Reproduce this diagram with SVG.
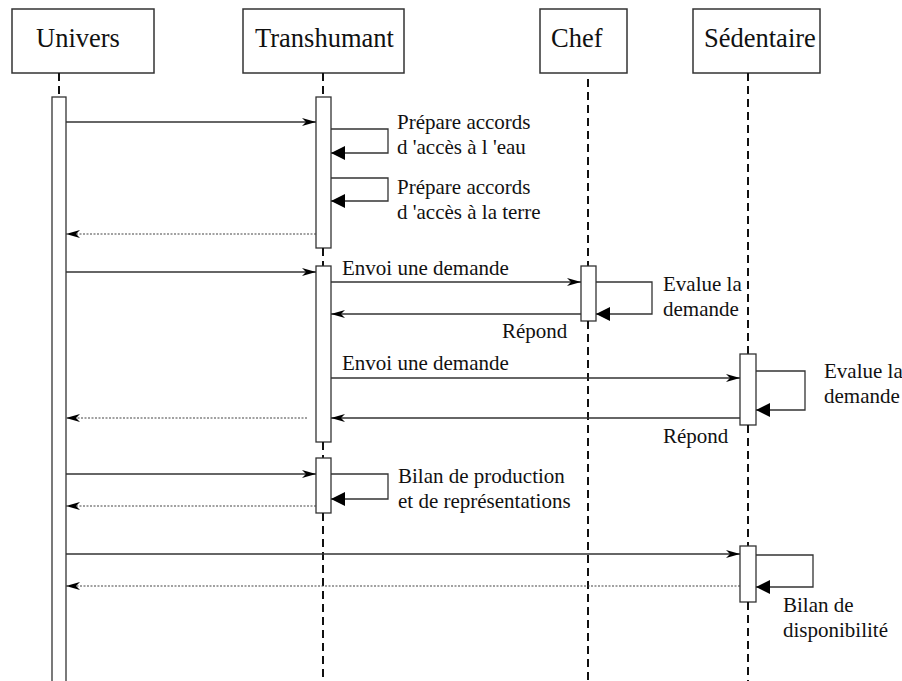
<svg xmlns="http://www.w3.org/2000/svg" width="902" height="681" viewBox="0 0 902 681">
<defs>
<style>
.box{fill:#fff;stroke:#333;stroke-width:1.5}
.act{fill:#fff;stroke:#333;stroke-width:1.3}
.life{stroke:#111;stroke-width:2;stroke-dasharray:8,5;fill:none}
.msg{stroke:#333;stroke-width:1.3;fill:none;marker-end:url(#barb)}
.ret{stroke:#444;stroke-width:1.2;stroke-dasharray:2,1.5;fill:none;marker-end:url(#barb)}
.loop{stroke:#333;stroke-width:1.3;fill:none;marker-end:url(#tri)}
.h{font-size:26.5px;fill:#111}
.t{font-size:21px;fill:#111}
</style>
<marker id="barb" markerUnits="userSpaceOnUse" markerWidth="16" markerHeight="10" refX="14" refY="4" orient="auto">
<path d="M0,0 L14,4 L0,8 L4,4 Z" fill="#000"/>
</marker>
<marker id="tri" markerUnits="userSpaceOnUse" markerWidth="16" markerHeight="16" refX="14" refY="7" orient="auto">
<path d="M0,0 L14,7 L0,14 Z" fill="#000"/>
</marker>
</defs>
<rect width="902" height="681" fill="#fff"/>

<g id="univers" font-family="Liberation Serif, serif">
<rect class="box" x="12" y="9" width="142" height="64"/>
<text class="h" x="36" y="47">Univers</text>
<line class="life" x1="59" y1="73" x2="59" y2="97"/>
<rect class="act" x="52" y="97" width="14" height="600"/>
</g>

<g id="transhumant" font-family="Liberation Serif, serif">
<rect class="box" x="243" y="9" width="161" height="64"/>
<text class="h" x="255" y="47">Transhumant</text>
<line class="life" x1="323" y1="73" x2="323" y2="97"/>
<rect class="act" x="316" y="97" width="15" height="151"/>
<line class="life" x1="323" y1="248" x2="323" y2="266"/>
<rect class="act" x="316" y="266" width="15" height="176"/>
<line class="life" x1="323" y1="442" x2="323" y2="458"/>
<rect class="act" x="316" y="458" width="15" height="55"/>
<line class="life" x1="323" y1="513" x2="323" y2="681"/>
</g>

<g id="chef" font-family="Liberation Serif, serif">
<rect class="box" x="540" y="9" width="87" height="64"/>
<text class="h" x="551" y="47">Chef</text>
<line class="life" x1="588" y1="79" x2="588" y2="266"/>
<rect class="act" x="581" y="266" width="15" height="55"/>
<line class="life" x1="588" y1="321" x2="588" y2="681"/>
</g>

<g id="sedentaire" font-family="Liberation Serif, serif">
<rect class="box" x="693" y="9" width="127" height="64"/>
<text class="h" x="704" y="47">Sédentaire</text>
<line class="life" x1="748" y1="73" x2="748" y2="354"/>
<rect class="act" x="740" y="354" width="16" height="71"/>
<line class="life" x1="748" y1="425" x2="748" y2="546"/>
<rect class="act" x="740" y="546" width="16" height="56"/>
<line class="life" x1="748" y1="602" x2="748" y2="681"/>
</g>

<g id="connectors">
<line class="msg" x1="66" y1="122" x2="316" y2="122"/>
<polyline class="loop" points="331,129 388,129 388,153 331,153"/>
<polyline class="loop" points="331,178 388,178 388,201 331,201"/>
<line class="ret" x1="316" y1="234" x2="66" y2="234"/>
<line class="msg" x1="66" y1="272" x2="316" y2="272"/>
<line class="msg" x1="331" y1="282" x2="581" y2="282"/>
<polyline class="loop" points="596,282 652,282 652,314 596,314"/>
<line class="msg" x1="581" y1="314" x2="331" y2="314"/>
<line class="msg" x1="331" y1="378" x2="740" y2="378"/>
<polyline class="loop" points="756,371 805,371 805,410 756,410"/>
<line class="msg" x1="740" y1="418" x2="331" y2="418"/>
<line class="ret" x1="307" y1="418" x2="66" y2="418"/>
<line class="msg" x1="66" y1="474" x2="316" y2="474"/>
<polyline class="loop" points="331,474 388,474 388,499 331,499"/>
<line class="ret" x1="316" y1="506" x2="66" y2="506"/>
<line class="msg" x1="66" y1="554" x2="740" y2="554"/>
<polyline class="loop" points="756,555 813,555 813,587 756,587"/>
<line class="ret" x1="740" y1="586" x2="66" y2="586"/>
</g>

<g id="labels" font-family="Liberation Serif, serif">
<text class="t" x="397" y="129">Prépare accords</text>
<text class="t" x="397" y="154">d 'accès à l 'eau</text>
<text class="t" x="397" y="194">Prépare accords</text>
<text class="t" x="397" y="219">d 'accès à la terre</text>
<text class="t" x="342" y="275">Envoi une demande</text>
<text class="t" x="663" y="291">Evalue la</text>
<text class="t" x="663" y="316">demande</text>
<text class="t" x="502" y="338">Répond</text>
<text class="t" x="342" y="370">Envoi une demande</text>
<text class="t" x="824" y="378">Evalue la</text>
<text class="t" x="824" y="403">demande</text>
<text class="t" x="663" y="443">Répond</text>
<text class="t" x="398" y="483">Bilan de production</text>
<text class="t" x="398" y="508">et de représentations</text>
<text class="t" x="783" y="612">Bilan de</text>
<text class="t" x="783" y="637">disponibilité</text>
</g>
</svg>
